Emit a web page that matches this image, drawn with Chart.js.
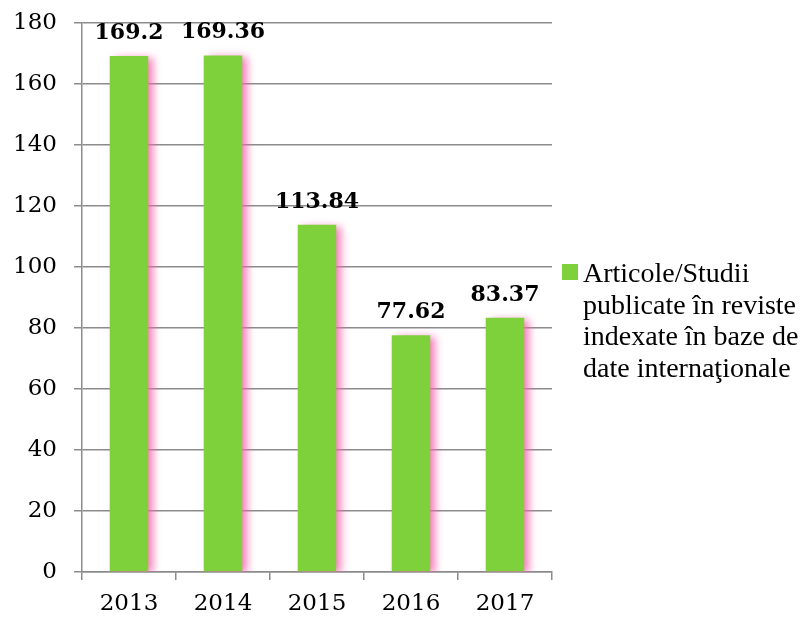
<!DOCTYPE html>
<html>
<head>
<meta charset="utf-8">
<script src="https://cdn.jsdelivr.net/npm/chart.js@4.4.1/dist/chart.umd.min.js"></script>
<style>
  body { margin: 0; background: #fff; }
</style>
</head>
<body>
<canvas id="myChart" width="812" height="617"></canvas>
<script>
// date din grafic
const years = ["2013", "2014", "2015", "2016", "2017"];
const articole = [169.2, 169.36, 113.84, 77.62, 83.37];
const legendLines = ["Articole/Studii", "publicate în reviste", "indexate în baze de", "date internaţionale"];
const yTicks = [0, 20, 40, 60, 80, 100, 120, 140, 160, 180];

const barGreen = "#7fd13b";

// umbra roz + etichete cu valori
const barExtras = {
    id: "barExtras",
    beforeDatasetsDraw(chart) {
        const ctx = chart.ctx;
        ctx.save();
        ctx.shadowColor = "rgba(245, 100, 175, 0.85)";
        ctx.shadowBlur = 8;
        ctx.shadowOffsetX = 5;
        ctx.shadowOffsetY = 2;
    },
    afterDatasetsDraw(chart) {
        const ctx = chart.ctx;
        ctx.restore();
        ctx.save();
        ctx.font = "bold 22px 'DejaVu Serif'";
        ctx.fillStyle = "#000";
        ctx.textAlign = "center";
        ctx.textBaseline = "alphabetic";
        const meta = chart.getDatasetMeta(0);
        meta.data.forEach((bar, i) => {
            ctx.fillText(String(chart.data.datasets[0].data[i]), bar.x, bar.y - 17);
        });
        ctx.restore();
    },
    afterDraw(chart) {
        // legenda pe dreapta
        const ctx = chart.ctx;
        const ds = chart.data.datasets[0];
        const x = chart.chartArea.right + 10;
        const y = 264;
        ctx.save();
        ctx.fillStyle = ds.backgroundColor;
        ctx.fillRect(x, y, 16, 16);
        ctx.fillStyle = "#000";
        ctx.font = "28px 'Liberation Serif'";
        ctx.textBaseline = "alphabetic";
        legendLines.forEach((line, i) => {
            ctx.fillText(line, x + 21, 282 + i * 31.5);
        });
        ctx.restore();
    }
};

const ctx = document.getElementById("myChart").getContext("2d");
new Chart(ctx, {
    type: "bar",
    data: {
        labels: years,
        datasets: [{
            label: legendLines.join(" "),
            data: articole,
            backgroundColor: barGreen,
            barPercentage: 0.41,
            categoryPercentage: 1.0
        }]
    },
    options: {
        responsive: false,
        animation: false,
        layout: { padding: { left: 0, top: 23, right: 260, bottom: 0 } },
        plugins: {
            legend: { display: false },
            tooltip: { enabled: false }
        },
        scales: {
            x: {
                afterFit(axis) { axis.height = 45; },
                grid: {
                    display: true,
                    drawOnChartArea: false,
                    drawTicks: true,
                    tickLength: 8,
                    color: "#8c8c8c",
                    lineWidth: 1.5,
                    offset: true
                },
                border: { display: true, color: "#8c8c8c", width: 1.5 },
                ticks: {
                    color: "#000",
                    padding: 10,
                    font: { family: "'DejaVu Serif'", size: 23, lineHeight: 1.2 }
                }
            },
            y: {
                min: 0,
                max: 180,
                afterFit(axis) {
                    axis.width = 82;
                    axis.paddingTop = 0;
                    axis.paddingBottom = 0;
                },
                afterBuildTicks(axis) {
                    axis.ticks = yTicks.map(v => ({ value: v }));
                },
                grid: {
                    color: "#8c8c8c",
                    lineWidth: 1.5,
                    tickLength: 8
                },
                border: { display: true, color: "#8c8c8c", width: 1.5 },
                ticks: {
                    color: "#000",
                    padding: 17,
                    font: { family: "'DejaVu Serif'", size: 23 }
                }
            }
        }
    },
    plugins: [barExtras]
});
</script>
</body>
</html>
